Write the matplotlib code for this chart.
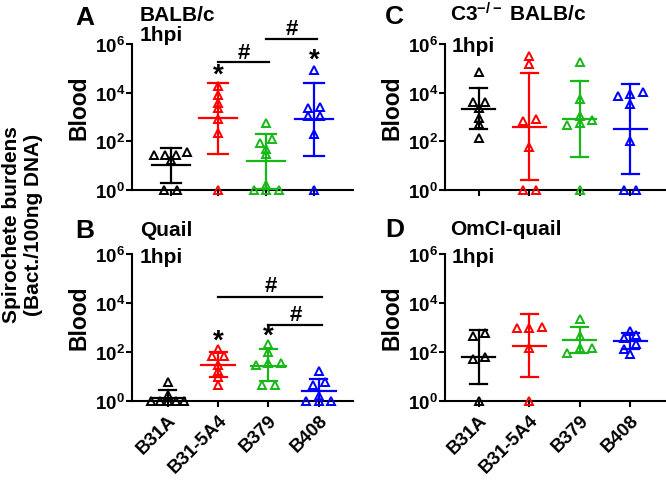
import numpy as np
import matplotlib
matplotlib.use("Agg")
import matplotlib.pyplot as plt
from matplotlib.ticker import NullLocator

plt.rcParams['font.family'] = ['Liberation Sans', 'DejaVu Sans']
plt.rcParams['font.weight'] = 'bold'
plt.rcParams['mathtext.fontset'] = 'custom'
plt.rcParams['mathtext.rm'] = 'Liberation Sans:bold'
plt.rcParams['mathtext.bf'] = 'Liberation Sans:bold'
plt.rcParams['mathtext.it'] = 'Liberation Sans:bold'

strains = ['B31A', 'B31-5A4', 'B379', 'B408']
colors = ['black', '#ff0000', '#17b817', '#0000ff']

# A: BALB/c, 1hpi
a_points = [[28, 36, 17, 28, 28, 1, 1],
            [18600, 7800, 3900, 2400, 850, 215, 1],
            [560, 130, 83, 50, 30, 1.66, 1, 1, 1],
            [89000, 2700, 2240, 1120, 1120, 195, 1]]
a_mean = [10.2, 890, 15, 810]
a_low = [2.0, 31, 1.12, 25]
a_high = [54, 25000, 195, 26000]

# B: Quail, 1hpi
b_points = [[6.2, 1.8, 1, 1, 1, 1, 1],
            [132, 71, 71, 30, 17, 9.8, 4.3],
            [215, 102, 35, 35, 30, 4.3, 4.3],
            [17, 5.8, 4.3, 1.66, 1, 1, 1]]
b_mean = [1.3, 29.5, 27.5, 2.6]
b_low = [0.62, 9.3, 6.8, 0.87]
b_high = [2.8, 98, 132, 7.9]

# C: C3-/- BALB/c, 1hpi
c_points = [[71000, 4300, 4300, 2300, 930, 500, 132],
            [320000, 145000, 800, 690, 59, 1, 1],
            [180000, 5400, 1100, 720, 550, 470, 1],
            [10700, 9100, 7200, 3300, 102, 1, 1]]
c_mean = [2190, 400, 794, 310]
c_low = [310, 2.5, 22, 4.7]
c_high = [15500, 66000, 30000, 22000]

# D: OmCI-quail, 1hpi
d_points = [[600, 440, 60, 51, 1],
            [1070, 980, 950, 141, 1],
            [2240, 440, 145, 145, 93],
            [740, 490, 363, 214, 138, 83]]
d_mean = [65, 182, 316, 288]
d_low = [4.9, 9.3, 89, 132]
d_high = [810, 3550, 1020, 600]

# significance: (from, to, bar height, # height)
a_bars = [(1, 2, 1.9e5, 4.3e5), (2, 3, 1.6e6, 4.3e6)]
a_stars = [(1, 5.5e4), (3, 2.3e5)]
b_bars = [(1, 3, 1.7e4, 5.2e4), (2, 3, 1.26e3, 3.4e3)]
b_stars = [(1, 290), (2, 450)]

W, H = 666, 481
fig = plt.figure(figsize=(W / 100, H / 100), dpi=100)


def make_ax(left, right, top, bottom, xlim):
    ax = fig.add_axes([left / W, 1 - bottom / H, (right - left) / W, (bottom - top) / H])
    ax.set_yscale('log')
    ax.set_ylim(1, 1e6)
    ax.set_xlim(*xlim)
    ax.spines['top'].set_visible(False)
    ax.spines['right'].set_visible(False)
    for s in ['left', 'bottom']:
        ax.spines[s].set_linewidth(1.5)
    ax.set_yticks([1, 1e2, 1e4, 1e6])
    ax.set_yticklabels([r'$10^{0}$', r'$10^{2}$', r'$10^{4}$', r'$10^{6}$'])
    ax.yaxis.set_minor_locator(NullLocator())
    ax.tick_params(axis='y', labelsize=13.5, length=4, width=1.5, pad=1)
    ax.set_xticks(range(4))
    ax.tick_params(axis='x', length=4, width=1.5)
    ax.set_ylabel('Blood', fontsize=16.5, fontweight='bold')
    ax.yaxis.set_label_coords(-0.19, 0.57)
    ax.patch.set_alpha(0)
    return ax


def swarm(vals, spacing):
    logs = np.log10(vals)
    order = np.argsort(logs)
    offs = np.zeros(len(vals))
    groups = []
    for i in order:
        if groups and logs[i] - logs[groups[-1][0]] < 0.21:
            groups[-1].append(i)
        else:
            groups.append([i])
    for g in groups:
        n = len(g)
        step = min(spacing, 2.6 * spacing / max(n - 1, 1))
        for k, i in enumerate(g):
            offs[i] = (k - (n - 1) / 2) * step
    return offs


def draw(ax, points, mean, low, high, mean_w, cap_w):
    x0, x1 = ax.get_xlim()
    px = ax.get_position().width * W
    unit = (x1 - x0) / px
    for i, (pts, c) in enumerate(zip(points, colors)):
        offs = swarm(np.array(pts, float), 12.5 * unit)
        ax.plot(i + offs, pts, ls='none', marker='^', ms=6.3, mfc='none',
                mec=c, mew=1.4, clip_on=False, zorder=4)
        ax.plot([i, i], [low[i], high[i]], color=c, lw=1.6, zorder=3)
        ax.plot([i - cap_w, i + cap_w], [low[i], low[i]], color=c, lw=1.6, zorder=3)
        ax.plot([i - cap_w, i + cap_w], [high[i], high[i]], color=c, lw=1.6, zorder=3)
        ax.plot([i - mean_w, i + mean_w], [mean[i], mean[i]], color=c, lw=1.6, zorder=3)


def sig(ax, bars, stars):
    for a, b, yb, yh in bars:
        ax.plot([a, b + 0.06], [yb, yb], color='black', lw=1.6, clip_on=False)
        ax.text((a + b) / 2 + 0.04, yh, '#', ha='center', va='center', fontsize=16)
    for x, y in stars:
        ax.text(x, y, '*', ha='center', va='center', fontsize=20)


ax_a = make_ax(132, 353, 45, 191, (-0.81, 3.82))
ax_b = make_ax(132, 353, 255, 402, (-0.71, 3.68))
ax_c = make_ax(445, 665, 45, 191, (-0.67, 3.69))
ax_d = make_ax(445, 665, 255, 402, (-0.67, 3.69))

draw(ax_a, a_points, a_mean, a_low, a_high, 0.40, 0.21)
draw(ax_b, b_points, b_mean, b_low, b_high, 0.34, 0.17)
draw(ax_c, c_points, c_mean, c_low, c_high, 0.33, 0.17)
draw(ax_d, d_points, d_mean, d_low, d_high, 0.33, 0.17)
sig(ax_a, a_bars, a_stars)
sig(ax_b, b_bars, b_stars)

for ax in (ax_a, ax_c):
    ax.set_xticklabels([])
for ax in (ax_b, ax_d):
    ax.set_xticklabels(strains, rotation=45, ha='right', rotation_mode='anchor',
                       fontsize=13.5, fontweight='bold')


def ftext(x, y, s, size=15):
    fig.text(x / W, 1 - y / H, s, fontsize=size, fontweight='bold', va='baseline', ha='left')


ftext(75, 25, 'A', 19)
ftext(140, 21, 'BALB/c')
ftext(140, 41, '1hpi')
ftext(75, 238, 'B', 19)
ftext(140, 236, 'Quail')
ftext(140, 263, '1hpi')
ftext(385, 24, 'C', 19)
ftext(450, 21, r'C3$^{-/-}$ BALB/c')
ftext(452, 52, '1hpi')
ftext(385, 237, 'D', 19)
ftext(450, 235, 'OmCI-quail')
ftext(452, 263, '1hpi')

fig.text(23 / W, 1 - 225 / H, 'Spirochete burdens\n(Bact./100ng DNA)', rotation=90,
         ha='center', va='center', fontsize=15, fontweight='bold', linespacing=1.2)

fig.savefig('out.png', dpi=100)
